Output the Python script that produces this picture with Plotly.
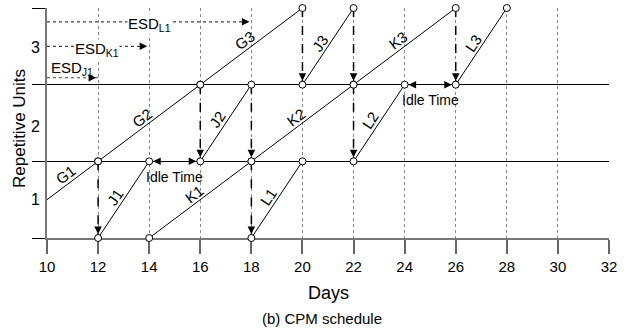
import math
import plotly.graph_objects as go

# Repetitive schedule: each crew (activity) works through units 1..3 in sequence
activities = ["G", "J", "K", "L"]
units = [1, 2, 3]
start_days = {
    "G": [8, 12, 16],
    "J": [12, 16, 20],
    "K": [14, 18, 22],
    "L": [18, 22, 26],
}
finish_days = {
    "G": [12, 16, 20],
    "J": [14, 18, 22],
    "K": [18, 22, 26],
    "L": [20, 24, 28],
}

# logical links between crews: day, from level, to level
link_days = [12, 16, 20, 18, 18, 22, 22, 26]
link_from = [1, 2, 3, 2, 1, 3, 2, 3]
link_to = [0, 1, 2, 1, 0, 2, 1, 2]

# idle time of a crew between two units
idle_from = [14, 24]
idle_to = [16, 26]
idle_level = [1, 2]

# early start dates of the first unit
esd_names = ["J1", "K1", "L1"]
esd_days = [12, 14, 18]
esd_levels = [2.09, 2.5, 2.82]

x_ticks = list(range(10, 33, 2))
unit_labels = ["1", "2", "3"]
unit_label_levels = [0.5, 1.45, 2.48]

X_RANGE = [10, 32]
Y_RANGE = [0, 3]
W, H = 630, 333
ML, MR, MT, MB = 47, 21, 8, 95
PW, PH = W - ML - MR, H - MT - MB
PX_X = PW / (X_RANGE[1] - X_RANGE[0])
PX_Y = PH / (Y_RANGE[1] - Y_RANGE[0])

FONT = "Liberation Sans, Arial, sans-serif"

fig = go.Figure()

# early start date guides
for d, lvl in zip(esd_days, esd_levels):
    fig.add_trace(go.Scatter(x=[X_RANGE[0], d], y=[lvl, lvl], mode="lines",
                             line=dict(color="#444", width=1.2, dash="dot"),
                             hoverinfo="skip", showlegend=False))

# dashed logic links
lx, ly = [], []
for d, a, b in zip(link_days, link_from, link_to):
    lx += [d, d, None]
    ly += [a, b, None]
fig.add_trace(go.Scatter(x=lx, y=ly, mode="lines",
                         line=dict(color="black", width=1.5, dash="dash"),
                         hoverinfo="skip", showlegend=False))

# activity progress lines
for act in activities:
    xs, ys = [], []
    for u, s, f in zip(units, start_days[act], finish_days[act]):
        xs += [s, f, None]
        ys += [u - 1, u, None]
    fig.add_trace(go.Scatter(x=xs, y=ys, mode="lines",
                             line=dict(color="black", width=1),
                             hoverinfo="skip", showlegend=False))

# start / finish event circles
mx, my = [], []
for act in activities:
    for u, s, f in zip(units, start_days[act], finish_days[act]):
        for xv, yv in ((s, u - 1), (f, u)):
            if X_RANGE[0] <= xv <= X_RANGE[1]:
                mx.append(xv)
                my.append(yv)
fig.add_trace(go.Scatter(x=mx, y=my, mode="markers", cliponaxis=False,
                         marker=dict(symbol="circle", size=7, color="white",
                                     line=dict(color="black", width=1)),
                         hoverinfo="skip", showlegend=False))

ann = []

# arrow heads on the logic links
for d, a, b in zip(link_days, link_from, link_to):
    ann.append(dict(x=d, y=b, ax=0, ay=-12, text="", showarrow=True,
                    arrowhead=2, arrowsize=1, arrowwidth=1.5, arrowcolor="black",
                    standoff=4))

# idle time double arrows
for a, b, lvl in zip(idle_from, idle_to, idle_level):
    ann.append(dict(x=a, y=lvl, ax=12, ay=0, text="", showarrow=True,
                    arrowhead=2, arrowsize=1, arrowwidth=1.5, arrowcolor="black",
                    standoff=4))
    ann.append(dict(x=b, y=lvl, ax=-12, ay=0, text="", showarrow=True,
                    arrowhead=2, arrowsize=1, arrowwidth=1.5, arrowcolor="black",
                    standoff=4))
    ann.append(dict(x=(a + b) / 2, y=lvl - 0.2, text="Idle Time", showarrow=False,
                    font=dict(family=FONT, size=14, color="black"),
                    xanchor="center", yanchor="middle"))

# early start date arrows and labels
esd_label_x = [10.98, 11.95, 14.0]
esd_label_dy = [0.16, 0.0, 0.0]
for name, d, lvl, lx_, dy in zip(esd_names, esd_days, esd_levels, esd_label_x, esd_label_dy):
    ann.append(dict(x=d, y=lvl, ax=-10, ay=0, text="", showarrow=True,
                    arrowhead=2, arrowsize=1, arrowwidth=1.5, arrowcolor="black",
                    standoff=2))
    ann.append(dict(x=lx_, y=lvl + dy, text=f"ESD<sub>{name}</sub>", showarrow=False,
                    font=dict(family=FONT, size=15, color="black"),
                    bgcolor="white" if dy == 0 else None, borderpad=0,
                    xanchor="center", yanchor="middle", yshift=-3))

# activity labels, rotated along each line
for act in activities:
    for u, s, f in zip(units, start_days[act], finish_days[act]):
        x0, y0, x1, y1 = s, u - 1, f, u
        if x0 < X_RANGE[0]:
            y0 = y0 + (y1 - y0) * (X_RANGE[0] - x0) / (x1 - x0)
            x0 = X_RANGE[0]
        dxp = (x1 - x0) * PX_X
        dyp = (y1 - y0) * PX_Y
        ang = math.atan2(dyp, dxp)
        perp = 8.5
        ann.append(dict(x=(x0 + x1) / 2, y=(y0 + y1) / 2, text=f"{act}{u}",
                        showarrow=False, textangle=-math.degrees(ang),
                        font=dict(family=FONT, size=15, color="black"),
                        xanchor="center", yanchor="middle",
                        xshift=-perp * math.sin(ang) - 2 * math.cos(ang),
                        yshift=perp * math.cos(ang) - 2 * math.sin(ang)))

# unit numbers between level lines
for t, lvl in zip(unit_labels, unit_label_levels):
    ann.append(dict(x=(35 - ML) / PW, xref="paper", y=lvl, text=t, showarrow=False,
                    font=dict(family=FONT, size=16, color="black"),
                    xanchor="center", yanchor="middle"))

# axis titles and caption
ann.append(dict(x=(19 - ML) / PW, xref="paper", y=(PH + MT - 129) / PH, yref="paper",
                text="Repetitive Units", textangle=-90, showarrow=False,
                font=dict(family=FONT, size=17, color="black"),
                xanchor="center", yanchor="middle"))
ann.append(dict(x=0.5, xref="paper", y=(PH + MT - 293) / PH, yref="paper",
                text="Days", showarrow=False,
                font=dict(family=FONT, size=18, color="black"),
                xanchor="center", yanchor="middle"))
ann.append(dict(x=(322 - ML) / PW, xref="paper", y=(PH + MT - 318) / PH, yref="paper",
                text="(b) CPM schedule", showarrow=False,
                font=dict(family=FONT, size=15, color="black"),
                xanchor="center", yanchor="middle"))

fig.update_layout(
    width=W, height=H,
    margin=dict(l=ML, r=MR, t=MT, b=MB),
    paper_bgcolor="white", plot_bgcolor="white",
    annotations=ann,
    font=dict(family=FONT, size=15, color="black"),
    xaxis=dict(range=X_RANGE, tickvals=x_ticks, ticks="outside", ticklen=14,
               tickwidth=2, tickcolor="#666", showline=True, linecolor="#777",
               linewidth=2, showgrid=True, gridcolor="#888", griddash="dot",
               gridwidth=1, zeroline=False, layer="below traces",
               tickfont=dict(family=FONT, size=15, color="black")),
    yaxis=dict(range=Y_RANGE, tickvals=[0, 1, 2, 3], showticklabels=False,
               ticks="outside", ticklen=13, tickcolor="black", tickwidth=1,
               showline=True, linecolor="#777", linewidth=1.5,
               showgrid=True, gridcolor="black", gridwidth=1, zeroline=False,
               layer="below traces"),
)

fig.write_html("out.html")
